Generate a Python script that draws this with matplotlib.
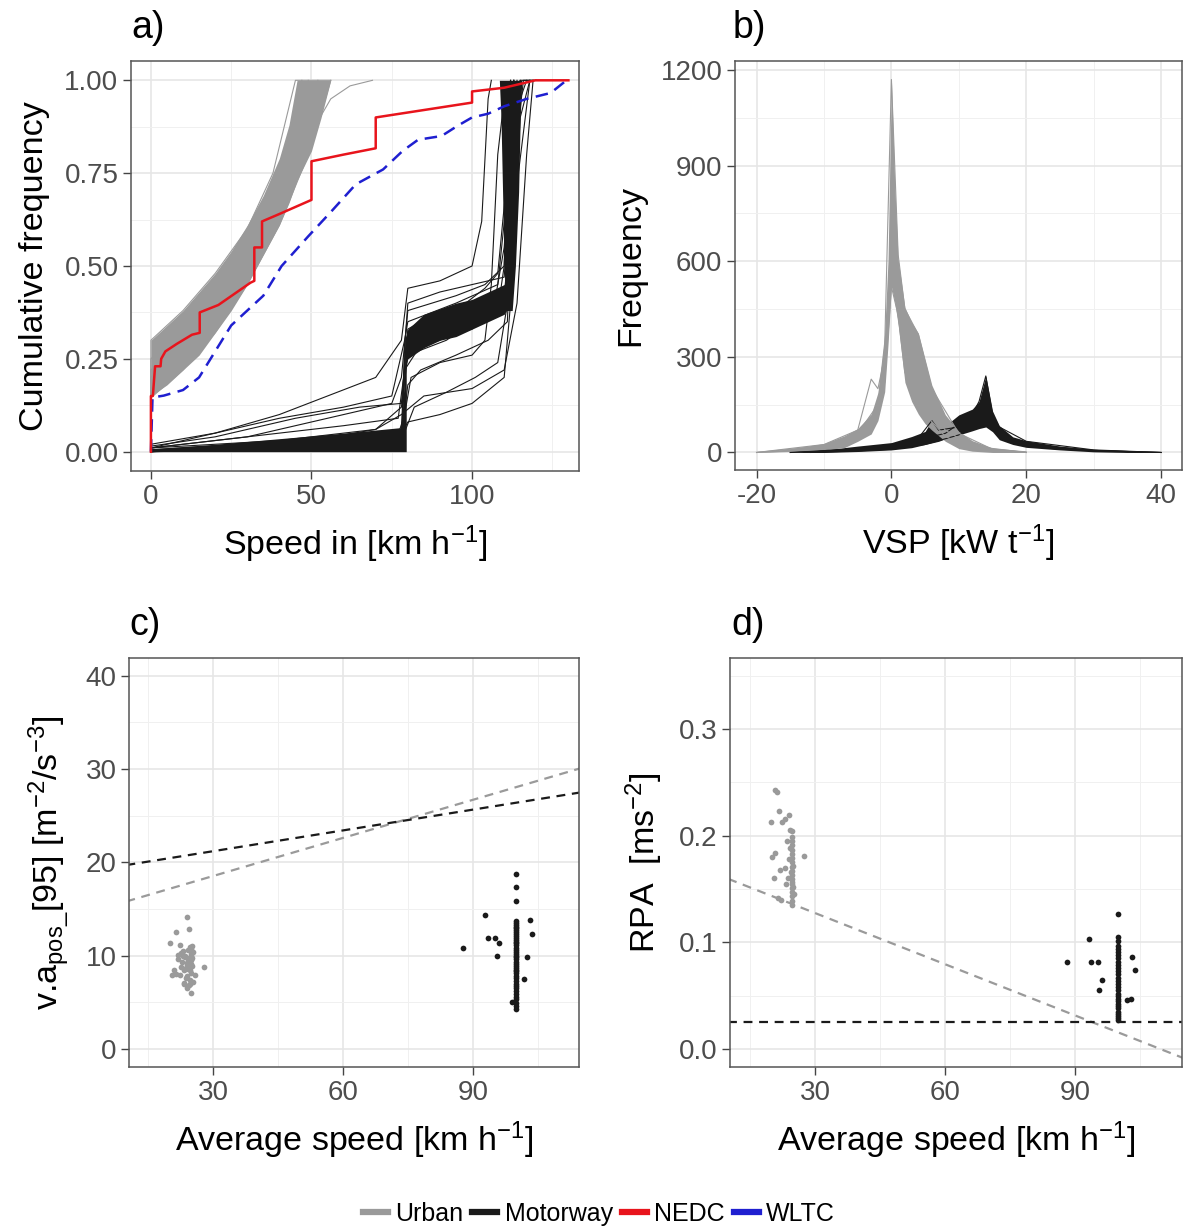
import matplotlib
matplotlib.use("Agg")
import matplotlib.pyplot as plt
from matplotlib.lines import Line2D

plt.rcParams['font.family'] = ['Liberation Sans', 'DejaVu Sans']
plt.rcParams['mathtext.fontset'] = 'custom'
plt.rcParams['mathtext.rm'] = 'Liberation Sans'
plt.rcParams['mathtext.it'] = 'Liberation Sans:italic'
plt.rcParams['axes.unicode_minus'] = False

GREY = '#9a9a9a'
BLACK = '#1a1a1a'
RED = '#e8141c'
BLUE = '#1f1fd0'

# ---------------- a) cumulative speed distribution ----------------
nedc_x = [0, 0, 0.6, 1.3, 3.0, 3.2, 4.5, 8, 12.8, 15.2, 15.2, 21, 31, 32.2, 32.2, 34.6, 34.6, 40, 50, 50, 60, 70, 70, 85, 100, 100, 110, 119.7, 130]
nedc_y = [0, 0.15, 0.15, 0.23, 0.23, 0.25, 0.27, 0.29, 0.315, 0.32, 0.375, 0.395, 0.455, 0.46, 0.55, 0.55, 0.62, 0.64, 0.678, 0.782, 0.80, 0.817, 0.90, 0.92, 0.94, 0.97, 0.98, 1.0, 1.0]

wltc_x = [0, 0.5, 4, 10, 15, 20, 25, 35, 40.7, 49, 56.5, 63.8, 72.3, 78.4, 83.2, 90.5, 95.4, 100, 105, 110, 117, 124.5, 129.4]
wltc_y = [0, 0.146, 0.151, 0.166, 0.20, 0.27, 0.34, 0.42, 0.50, 0.58, 0.65, 0.72, 0.76, 0.81, 0.84, 0.85, 0.877, 0.90, 0.91, 0.93, 0.95, 0.966, 1.0]

# dense core of the urban curves (upper = left edge, lower = right edge)
urb_band_x = [0, 5, 10, 15, 20, 25, 30, 35, 40, 43, 45.5, 50, 53, 56]
urb_band_hi = [0.30, 0.34, 0.38, 0.43, 0.48, 0.54, 0.61, 0.69, 0.79, 0.88, 1.0, 1.0, 1.0, 1.0]
urb_band_lo = [0.15, 0.18, 0.22, 0.26, 0.32, 0.38, 0.45, 0.53, 0.61, 0.67, 0.73, 0.81, 0.90, 1.0]

urban_curves = [
    ([0, 0, 10, 20, 30, 38, 45, 56], [0, 0.30, 0.38, 0.48, 0.60, 0.75, 1.0, 1.0]),
    ([0, 0, 10, 20, 30, 40, 47], [0, 0.25, 0.34, 0.43, 0.55, 0.72, 1.0]),
    ([0, 0, 10, 20, 30, 40, 49], [0, 0.20, 0.29, 0.39, 0.51, 0.67, 1.0]),
    ([0, 0, 10, 20, 30, 40, 52], [0, 0.17, 0.25, 0.35, 0.47, 0.63, 1.0]),
    ([0, 0, 10, 20, 30, 40, 50, 56], [0, 0.145, 0.22, 0.32, 0.45, 0.61, 0.82, 1.0]),
    ([0, 0, 10, 20, 30, 40, 50, 56, 62, 69], [0, 0.22, 0.31, 0.40, 0.51, 0.65, 0.86, 0.95, 0.985, 1.0]),
]

# dense parts of the motorway curves
mw_base_x = [0, 20, 40, 60, 78, 79.5]
mw_base_hi = [0.008, 0.02, 0.035, 0.05, 0.065, 0.28]
mw_base_lo = [0, 0, 0, 0, 0, 0]
mw_mid_x = [79, 80, 85, 90, 95, 100, 105, 110, 112]
mw_mid_hi = [0.30, 0.33, 0.37, 0.385, 0.40, 0.41, 0.43, 0.45, 0.48]
mw_mid_lo = [0.22, 0.25, 0.28, 0.30, 0.31, 0.33, 0.35, 0.37, 0.40]
mw_top_y = [0.38, 0.5, 0.7, 0.9, 1.0]
mw_top_lo = [110.5, 110, 109.5, 109, 108.5]
mw_top_hi = [112.5, 113.5, 114.5, 115, 115.5]

motorway_curves = [
    ([0, 0, 30, 60, 78, 79, 80, 95, 110, 112, 113, 115, 120], [0, 0.005, 0.01, 0.02, 0.03, 0.25, 0.32, 0.37, 0.42, 0.6, 0.95, 1.0, 1.0]),
    ([0, 0, 20, 40, 55, 70, 78, 80, 90, 100, 103, 105, 106], [0, 0.01, 0.05, 0.10, 0.15, 0.20, 0.30, 0.44, 0.46, 0.50, 0.62, 0.95, 1.0]),
    ([0, 0, 30, 60, 78, 80, 90, 100, 110, 112, 114, 116, 119], [0, 0, 0.02, 0.04, 0.05, 0.08, 0.10, 0.13, 0.20, 0.40, 0.85, 1.0, 1.0]),
    ([0, 0, 20, 40, 60, 75, 79, 80, 95, 108, 111, 113], [0, 0.02, 0.05, 0.09, 0.12, 0.15, 0.30, 0.35, 0.40, 0.45, 0.70, 1.0]),
    ([0, 0, 40, 70, 78, 85, 100, 110, 114, 117, 119], [0, 0, 0.03, 0.06, 0.10, 0.15, 0.17, 0.22, 0.40, 0.80, 1.0]),
    ([0, 0, 50, 78, 79, 80, 90, 100, 108, 110, 112, 113], [0, 0, 0.02, 0.03, 0.20, 0.28, 0.30, 0.35, 0.38, 0.50, 0.90, 1.0]),
    ([0, 0, 30, 50, 65, 75, 78, 80, 95, 104, 110, 112], [0, 0.01, 0.04, 0.08, 0.11, 0.13, 0.20, 0.38, 0.42, 0.45, 0.50, 1.0]),
    ([0, 0, 60, 76, 79, 81, 90, 100, 104, 106, 108, 110, 112], [0, 0, 0.01, 0.02, 0.10, 0.20, 0.24, 0.26, 0.30, 0.45, 0.80, 0.95, 1.0]),
    ([0, 0, 40, 78, 79, 80, 90, 100, 110, 112, 114], [0, 0.01, 0.03, 0.05, 0.28, 0.40, 0.43, 0.45, 0.47, 0.70, 1.0]),
    ([0, 0, 40, 78, 80, 84, 95, 105, 111, 113, 115], [0, 0, 0.02, 0.04, 0.18, 0.22, 0.26, 0.30, 0.35, 0.80, 1.0]),
    ([0, 0, 30, 60, 77, 79, 85, 100, 107, 110, 113, 117], [0, 0.01, 0.04, 0.07, 0.09, 0.22, 0.30, 0.33, 0.40, 0.55, 0.90, 1.0]),
    ([0, 0, 50, 70, 78, 80, 92, 102, 110, 113, 118], [0, 0.005, 0.03, 0.06, 0.12, 0.26, 0.30, 0.36, 0.41, 0.65, 1.0]),
    ([0, 0, 20, 45, 65, 78, 80, 90, 98, 104, 108, 111, 113], [0, 0.015, 0.04, 0.09, 0.12, 0.13, 0.33, 0.38, 0.40, 0.44, 0.48, 0.75, 1.0]),
    ([0, 0, 60, 78, 82, 92, 101, 108, 112, 115, 118], [0, 0, 0.015, 0.03, 0.12, 0.16, 0.20, 0.24, 0.45, 0.90, 1.0]),
]

# ---------------- b) VSP frequency ----------------
vsp_urb_x = [-20, -15, -10, -7, -5, -3, -2, -1, -0.5, 0, 0.5, 1, 2, 3, 4, 5, 6, 8, 10, 12, 15, 20]
vsp_urb_hi = [0, 12, 28, 52, 75, 120, 188, 374, 606, 1170, 838, 606, 455, 408, 374, 292, 211, 118, 66, 37, 14, 5]
vsp_urb_lo = [0, 3, 8, 15, 35, 58, 100, 190, 340, 520, 470, 400, 220, 160, 120, 90, 70, 35, 12, 4, 0, 0]

vsp_mot_x = [-15, -10, -5, 0, 3, 5, 6, 7, 8, 10, 12, 13, 14, 15, 16, 18, 20, 25, 30, 35, 40]
vsp_mot_hi = [0, 8, 20, 31, 50, 66, 101, 80, 84, 118, 136, 160, 240, 130, 84, 49, 37, 20, 10, 5, 0]
vsp_mot_lo = [0, 0, 3, 8, 15, 25, 30, 35, 43, 55, 68, 75, 80, 65, 40, 25, 16, 8, 2, 0, 0]

vsp_urban_curves = [
    ([-20, -10, -5, -3, -2, -1, 0, 1, 2, 3, 5, 8, 12, 20], [0, 25, 70, 230, 200, 300, 650, 430, 250, 230, 120, 50, 15, 0]),
    ([-20, -10, -5, -2, -1, 0, 1, 2, 4, 6, 10, 15, 20], [0, 20, 60, 150, 330, 1170, 620, 450, 370, 200, 60, 10, 0]),
    ([-20, -10, -5, -2, -1, 0, 1, 2, 3, 5, 8, 12, 20], [0, 10, 40, 120, 220, 520, 430, 280, 235, 150, 70, 20, 0]),
]
vsp_motorway_curves = [
    ([-15, -5, 0, 5, 8, 10, 12, 13, 14, 15, 16, 20, 30, 40], [0, 12, 25, 45, 60, 90, 120, 160, 240, 120, 80, 35, 8, 0]),
    ([-15, -5, 0, 4, 6, 7, 10, 12, 14, 16, 20, 30, 40], [0, 10, 20, 45, 100, 70, 80, 110, 100, 60, 25, 6, 0]),
    ([-12, -5, 0, 5, 10, 12, 14, 16, 20, 25, 35, 40], [0, 5, 10, 25, 55, 80, 95, 60, 20, 10, 3, 0]),
]

# ---------------- c) v.a_pos[95] ----------------
c_urb_x = [24.1, 24.5, 21.5, 20.1, 22.3, 21.9, 21.0, 20.6, 22.3, 23.2, 25.0, 28.0, 25.9, 23.0, 23.5, 24.0, 24.3, 24.6, 24.8, 25.0,
           25.2, 24.9, 24.7, 24.4, 23.8, 23.3, 22.8, 23.6, 24.2, 25.1, 22.5, 23.9, 24.5, 25.3, 24.0, 22.0, 23.1, 24.7, 25.4, 21.5,
           24.9, 24.8, 24.6, 25.0, 24.3, 23.7, 24.1, 25.2, 22.7, 23.4]
c_urb_y = [14.1, 12.8, 12.5, 11.3, 11.1, 10.1, 8.5, 7.9, 7.9, 7.1, 6.0, 8.8, 7.9, 10.5, 9.8, 9.2, 8.6, 10.9, 10.2, 9.5,
           8.9, 8.1, 7.4, 6.8, 7.6, 8.4, 9.3, 10.0, 10.6, 11.0, 8.8, 9.0, 9.7, 7.2, 6.5, 9.6, 9.9, 8.4, 10.4, 8.0,
           9.1, 9.9, 7.0, 10.7, 9.4, 8.7, 7.8, 9.7, 10.3, 6.9]
c_mot_x = [100] * 44 + [99, 87.7, 92.8, 93.4, 95.0, 95.5, 96.1, 101.8, 102.5, 103.2, 103.6]
c_mot_y = [4.3, 4.6, 4.9, 5.3, 5.6, 5.9, 6.2, 6.5, 6.7, 7.0, 7.3, 7.6, 7.8, 8.1, 8.3, 8.5, 8.7, 8.9, 9.1, 9.3, 9.6, 9.8,
           10.0, 10.2, 10.4, 10.6, 10.8, 11.1, 11.3, 11.5, 11.7, 11.9, 12.1, 12.3, 12.5, 12.7, 12.9, 13.1, 13.3, 13.5, 13.7,
           15.9, 17.4, 18.7,
           5.0, 10.8, 14.3, 11.9, 11.9, 9.9, 11.3, 7.5, 9.8, 13.8, 12.3]
c_line_x = [10, 115]
c_urb_line = [15.8, 30.1]
c_mot_line = [19.7, 27.5]

# ---------------- d) RPA ----------------
d_urb_x = [20.8, 21.25, 21.7, 19.8, 22.4, 23.0, 24.1, 20.8, 20.2, 20.6, 27.5, 21.5, 22.2, 22.0, 23.0, 23.6, 24.0, 23.4,
           24.6, 24.6, 24.6, 24.6, 24.6, 24.6, 24.6, 24.6, 24.6, 24.6, 24.6, 24.6, 24.6, 24.6, 24.6, 24.6, 24.6, 24.6,
           24.3, 24.9, 25.0, 24.2, 23.8, 25.1, 24.4, 24.8]
d_urb_y = [0.243, 0.241, 0.223, 0.213, 0.213, 0.216, 0.219, 0.184, 0.180, 0.160, 0.181, 0.142, 0.140, 0.168, 0.170, 0.195, 0.178, 0.155,
           0.135, 0.139, 0.143, 0.147, 0.151, 0.155, 0.159, 0.163, 0.167, 0.171, 0.175, 0.179, 0.183, 0.187, 0.191, 0.195, 0.199, 0.204,
           0.205, 0.152, 0.172, 0.188, 0.160, 0.145, 0.166, 0.157]
d_mot_x = [100] * 30 + [88.1, 93.3, 93.7, 95.3, 96.2, 95.6, 102.0, 102.9, 103.1, 103.8]
d_mot_y = [0.027, 0.029, 0.031, 0.033, 0.035, 0.038, 0.040, 0.042, 0.045, 0.047, 0.050, 0.052, 0.055, 0.058, 0.061, 0.064,
           0.067, 0.070, 0.073, 0.076, 0.079, 0.082, 0.085, 0.088, 0.091, 0.094, 0.097, 0.101, 0.105, 0.127,
           0.082, 0.103, 0.082, 0.082, 0.065, 0.055, 0.046, 0.047, 0.086, 0.074]
d_line_x = [10, 115]
d_urb_line = [0.1595, -0.0085]
d_mot_line = [0.025, 0.025]

W, H = 1184, 1229
fig = plt.figure(figsize=(W / 100, H / 100), dpi=100)


def add_ax(left, top, right, bottom):
    return fig.add_axes([left / W, 1 - bottom / H, (right - left) / W, (bottom - top) / H])


def style(ax, xlim, ylim, xmaj, xmin, ymaj, ymin, ylabels=None):
    ax.set_xlim(*xlim)
    ax.set_ylim(*ylim)
    ax.set_xticks(xmaj)
    ax.set_xticks(xmin, minor=True)
    if ylabels is None:
        ax.set_yticks(ymaj)
    else:
        ax.set_yticks(ymaj, labels=ylabels)
    ax.set_yticks(ymin, minor=True)
    ax.set_axisbelow(True)
    ax.grid(True, which='major', color='#e6e6e6', lw=1.2)
    ax.grid(True, which='minor', color='#f0f0f0', lw=0.7)
    ax.tick_params(which='major', length=6, width=1.0, color='#444444', labelsize=20, labelcolor='#4d4d4d', pad=3)
    ax.tick_params(which='minor', length=0)
    for s in ax.spines.values():
        s.set_color('#555555')
        s.set_linewidth(1.1)


LAB = 24.5
DOT = 17

# a)
ax = add_ax(131, 61, 579, 471)
style(ax, (-6.2, 133.3), (-0.052, 1.052), [0, 50, 100], [25, 75, 125],
      [0, 0.25, 0.5, 0.75, 1.0], [0.125, 0.375, 0.625, 0.875],
      ylabels=['0.00', '0.25', '0.50', '0.75', '1.00'])
ax.fill_between(urb_band_x, urb_band_lo, urb_band_hi, color=GREY, lw=0)
for xs, ys in urban_curves:
    ax.plot(xs, ys, color=GREY, lw=0.8)
ax.fill_between(mw_base_x, mw_base_lo, mw_base_hi, color=BLACK, lw=0)
ax.fill_between(mw_mid_x, mw_mid_lo, mw_mid_hi, color=BLACK, lw=0)
ax.fill_betweenx(mw_top_y, mw_top_lo, mw_top_hi, color=BLACK, lw=0)
for xs, ys in motorway_curves:
    ax.plot(xs, ys, color=BLACK, lw=0.8)
ax.plot(wltc_x, wltc_y, color=BLUE, lw=1.8, ls=(0, (5, 3)))
ax.plot(nedc_x, nedc_y, color=RED, lw=1.8)
ax.set_xlabel(r'Speed in [km h$^{-1}$]', fontsize=LAB, labelpad=10)
ax.set_ylabel('Cumulative frequency', fontsize=LAB, labelpad=10)

# b)
ax = add_ax(735, 61, 1182, 470)
style(ax, (-23.2, 43.1), (-55, 1228), [-20, 0, 20, 40], [-10, 10, 30],
      [0, 300, 600, 900, 1200], [150, 450, 750, 1050])
ax.fill_between(vsp_mot_x, vsp_mot_lo, vsp_mot_hi, color=BLACK, lw=0)
for xs, ys in vsp_motorway_curves:
    ax.plot(xs, ys, color=BLACK, lw=0.8)
ax.fill_between(vsp_urb_x, vsp_urb_lo, vsp_urb_hi, color=GREY, lw=0)
for xs, ys in vsp_urban_curves:
    ax.plot(xs, ys, color=GREY, lw=0.8)
ax.set_xlabel(r'VSP [kW t$^{-1}$]', fontsize=LAB, labelpad=10)
ax.set_ylabel('Frequency', fontsize=LAB, labelpad=10)

# c)
ax = add_ax(129, 658, 579, 1067)
style(ax, (10.6, 114.5), (-1.95, 41.9), [30, 60, 90], [15, 45, 75, 105],
      [0, 10, 20, 30, 40], [5, 15, 25, 35])
ax.plot(c_line_x, c_urb_line, color=GREY, lw=1.6, ls=(0, (4, 3)))
ax.plot(c_line_x, c_mot_line, color=BLACK, lw=1.6, ls=(0, (4, 3)))
ax.scatter(c_urb_x, c_urb_y, s=DOT, color=GREY, lw=0)
ax.scatter(c_mot_x, c_mot_y, s=DOT, color=BLACK, lw=0)
ax.set_xlabel(r'Average speed [km h$^{-1}$]', fontsize=LAB, labelpad=10)
ax.set_ylabel(r'v.a$_{\rm pos\_}$[95] [m$^{-2}$/s$^{-3}$]', fontsize=LAB, labelpad=10)

# d)
ax = add_ax(730, 658, 1182, 1067)
style(ax, (10.4, 114.7), (-0.0169, 0.3666), [30, 60, 90], [15, 45, 75, 105],
      [0, 0.1, 0.2, 0.3], [0.05, 0.15, 0.25, 0.35],
      ylabels=['0.0', '0.1', '0.2', '0.3'])
ax.plot(d_line_x, d_urb_line, color=GREY, lw=1.6, ls=(0, (4, 3)))
ax.plot(d_line_x, d_mot_line, color=BLACK, lw=1.6, ls=(0, (4, 3)))
ax.scatter(d_urb_x, d_urb_y, s=DOT, color=GREY, lw=0)
ax.scatter(d_mot_x, d_mot_y, s=DOT, color=BLACK, lw=0)
ax.set_xlabel(r'Average speed [km h$^{-1}$]', fontsize=LAB, labelpad=10)
ax.set_ylabel(r'RPA  [ms$^{-2}$]', fontsize=LAB, labelpad=10)

# panel tags
for tag, px, py in [('a)', 131, 28), ('b)', 733, 28), ('c)', 129, 625), ('d)', 731, 625)]:
    fig.text(px / W, 1 - py / H, tag, fontsize=27, va='center', ha='left')

handles = [Line2D([], [], color=c, lw=4.5) for c in [GREY, BLACK, RED, BLUE]]
fig.legend(handles, ['Urban', 'Motorway', 'NEDC', 'WLTC'], loc='center', bbox_to_anchor=(0.506, 1 - 1214 / H),
           ncol=4, frameon=False, fontsize=18, handlelength=1.0, handletextpad=0.3, columnspacing=0.35)

fig.savefig('out.png', dpi=100)
